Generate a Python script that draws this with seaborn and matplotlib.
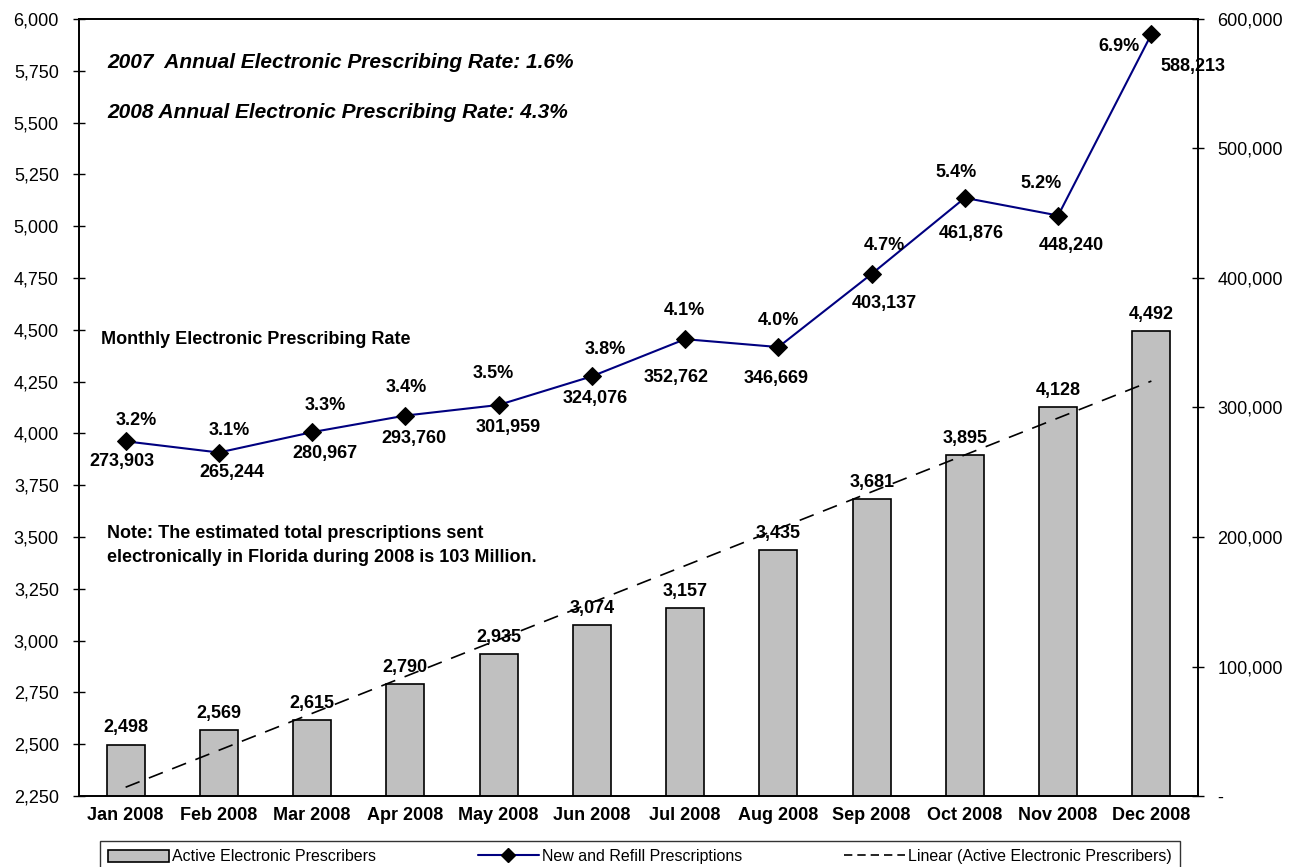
import numpy as np
import pandas as pd
import matplotlib
matplotlib.use("Agg")
import matplotlib.pyplot as plt
import seaborn as sns
from matplotlib.patches import Patch
from matplotlib.lines import Line2D
from matplotlib.ticker import FuncFormatter, MultipleLocator

# data
months = ["Jan 2008", "Feb 2008", "Mar 2008", "Apr 2008", "May 2008", "Jun 2008",
          "Jul 2008", "Aug 2008", "Sep 2008", "Oct 2008", "Nov 2008", "Dec 2008"]
active_prescribers = [2498, 2569, 2615, 2790, 2935, 3074, 3157, 3435, 3681, 3895, 4128, 4492]
prescriptions = [273903, 265244, 280967, 293760, 301959, 324076,
                 352762, 346669, 403137, 461876, 448240, 588213]
monthly_rate = ["3.2%", "3.1%", "3.3%", "3.4%", "3.5%", "3.8%",
                "4.1%", "4.0%", "4.7%", "5.4%", "5.2%", "6.9%"]

# label offsets in pixels (percent above, count below)
pct_off = [(11, 21), (10, 22), (13, 27), (1, 28), (-5, 31), (13, 27),
           (-1, 29), (0, 27), (13, 28), (-9, 25), (-17, 32), (-32, -12)]
val_off = [(-4, -20), (13, -20), (13, -21), (9, -23), (10, -23), (3, -22),
           (-9, -38), (-2, -31), (13, -30), (6, -36), (13, -30), (42, -32)]

sns.set_theme(style="white")
plt.rcParams["font.family"] = ["Liberation Sans", "DejaVu Sans"]
plt.rcParams["text.color"] = "black"
plt.rcParams["axes.edgecolor"] = "black"
plt.rcParams["xtick.color"] = "black"
plt.rcParams["ytick.color"] = "black"

df = pd.DataFrame({"month": months, "active": active_prescribers,
                   "rx": prescriptions, "pos": np.arange(len(months))})

fig = plt.figure(figsize=(12.98, 8.67), dpi=100)
ax = fig.add_axes([79 / 1298, 1 - 796 / 867, 1119 / 1298, 777 / 867])

sns.barplot(data=df, x="month", y="active", ax=ax, color="#C0C0C0",
            edgecolor="black", linewidth=1.2, width=0.41, saturation=1)
ax.bar_label(ax.containers[0], labels=[f"{v:,}" for v in active_prescribers],
             padding=6, fontsize=13, fontweight="bold")

# linear trend of the bars
sns.regplot(data=df, x="pos", y="active", ax=ax, scatter=False, ci=None, truncate=True,
            line_kws={"color": "black", "lw": 1.2, "ls": (0, (9, 6))})

ax.set_ylim(2250, 6000)
ax.set_xlim(-0.5, len(months) - 0.5)
ax.yaxis.set_major_locator(MultipleLocator(250))
ax.yaxis.set_major_formatter(FuncFormatter(lambda v, p: f"{v:,.0f}"))
ax.set_xticks(np.arange(len(months)))
ax.set_xticklabels(months, fontsize=13, fontweight="bold")
ax.set_xticks(np.arange(len(months) + 1) - 0.5, minor=True)
ax.tick_params(axis="x", which="major", length=0, pad=8)
ax.tick_params(axis="x", which="minor", length=6, width=1, direction="out")
ax.tick_params(axis="y", labelsize=13, length=8, width=1, direction="inout", pad=10.5)
ax.set_xlabel("")
ax.set_ylabel("")
for s in ax.spines.values():
    s.set_linewidth(1.2)

ax2 = ax.twinx()
sns.lineplot(data=df, x="pos", y="rx", ax=ax2, color="#000080", lw=1.5,
             marker="D", markersize=9, markerfacecolor="black", markeredgecolor="black")
ax2.set_ylim(0, 600000)
ax2.yaxis.set_major_locator(MultipleLocator(100000))
ax2.yaxis.set_major_formatter(FuncFormatter(lambda v, p: "-" if v == 0 else f"{v:,.0f}"))
ax2.tick_params(axis="y", labelsize=13, length=8, width=1, direction="inout", pad=10)
ax2.set_ylabel("")
ax2.set_xlabel("")
ax2.set_xlim(-0.5, len(months) - 0.5)

for i, (v, r) in enumerate(zip(prescriptions, monthly_rate)):
    ax2.annotate(r, (i, v), xytext=pct_off[i], textcoords="offset pixels",
                 ha="center", va="center", fontsize=13, fontweight="bold")
    ax2.annotate(f"{v:,}", (i, v), xytext=val_off[i], textcoords="offset pixels",
                 ha="center", va="center", fontsize=13, fontweight="bold")

fig.text(107 / 1298, 1 - 62 / 867, "2007  Annual Electronic Prescribing Rate: 1.6%",
         fontsize=15, fontweight="bold", fontstyle="italic", va="center")
fig.text(107 / 1298, 1 - 112 / 867, "2008 Annual Electronic Prescribing Rate: 4.3%",
         fontsize=15, fontweight="bold", fontstyle="italic", va="center")
fig.text(101 / 1298, 1 - 340 / 867, "Monthly Electronic Prescribing Rate",
         fontsize=13, fontweight="bold", va="center")
fig.text(107 / 1298, 1 - 533 / 867, "Note: The estimated total prescriptions sent",
         fontsize=13, fontweight="bold", va="center")
fig.text(107 / 1298, 1 - 557 / 867, "electronically in Florida during 2008 is 103 Million.",
         fontsize=13, fontweight="bold", va="center")

handles = [
    Patch(facecolor="#C0C0C0", edgecolor="black", linewidth=1.2),
    Line2D([], [], color="#000080", lw=1.5, marker="D", markersize=7,
           markerfacecolor="black", markeredgecolor="black"),
    Line2D([], [], color="black", lw=1.2, ls=(0, (5, 3))),
]
labels = ["Active Electronic Prescribers", "New and Refill Prescriptions",
          "Linear (Active Electronic Prescribers)"]
fig.legend(handles, labels, loc="lower left", ncol=3, mode="expand",
           bbox_to_anchor=(100 / 1298, -0.006, 1080 / 1298, 35 / 867),
           frameon=True, fancybox=False, edgecolor="black", fontsize=11.5,
           handlelength=3.8, handleheight=0.8, handletextpad=0.2,
           borderpad=0.5, borderaxespad=0)
fig.legends[0].get_frame().set_linewidth(1.0)

fig.savefig("out.png", dpi=100)
